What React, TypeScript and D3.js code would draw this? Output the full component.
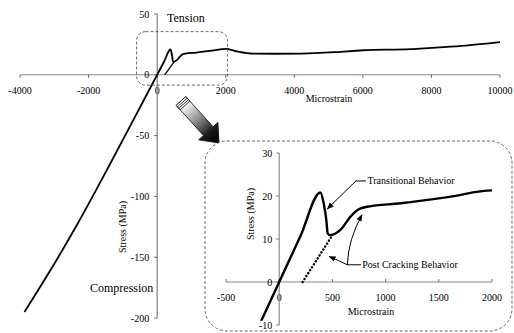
import React from 'react';
import * as d3 from 'd3';

const W = 514;
const H = 333;

// compression branch (microstrain, MPa)
const compStrain = [-3870, -3360, -2885, -2370, -1880, -1405, -700, 0];
const compStress = [-195, -172, -150, -125, -100, -75, -37.5, 0];

// tension branch
const tenStrain = [0, 200, 387, 418, 443, 456, 478, 575, 670, 748, 827, 1142, 1600, 2000, 2300, 2800, 3500, 4200, 5200, 6000, 7400, 8000, 9000, 10000];
const tenStress = [0, 10.7, 20.8, 18.3, 14.4, 11.3, 10.9, 12.1, 15.2, 16.9, 17.5, 18.3, 19.8, 21.3, 19.4, 17.4, 17.3, 17.4, 18.6, 20.2, 21.1, 22.2, 24.0, 26.8];

// post cracking (dotted) line
const postStrain = [220, 500];
const postStress = [0, 10.9];

const mainXTicks = [-4000, -2000, 0, 2000, 4000, 6000, 8000, 10000];
const mainYTicks = [50, 0, -50, -100, -150, -200];
const insetXTicks = [-500, 0, 500, 1000, 1500, 2000];
const insetYTicks = [30, 20, 10, 0, -10];

const FONT = '"Liberation Serif", "DejaVu Serif", serif';
const INK = '#000';

const zip = (xs: number[], ys: number[]) => xs.map((x, i) => [x, ys[i]] as [number, number]);

export default function App() {
  const xMain = d3.scaleLinear().domain([-4000, 10000]).range([20, 500]);
  const yMain = d3.scaleLinear().domain([-200, 50]).range([318, 14]);
  const xIn = d3.scaleLinear().domain([-500, 2000]).range([226, 492]);
  const yIn = d3.scaleLinear().domain([-10, 30]).range([325, 153]);

  const comp = zip(compStrain, compStress);
  const ten = zip(tenStrain, tenStress);
  const post = zip(postStrain, postStress);
  const full = comp.concat(ten.slice(1));

  const mainLine = d3.line<[number, number]>()
    .x(d => xMain(d[0])).y(d => yMain(d[1]))
    .curve(d3.curveMonotoneX);
  const inLine = d3.line<[number, number]>()
    .x(d => xIn(d[0])).y(d => yIn(d[1]))
    .curve(d3.curveMonotoneX);
  const straightMain = d3.line<[number, number]>().x(d => xMain(d[0])).y(d => yMain(d[1]));
  const straightIn = d3.line<[number, number]>().x(d => xIn(d[0])).y(d => yIn(d[1]));

  const x0 = xMain(0), y0 = yMain(0);
  const ix0 = xIn(0), iy0 = yIn(0);

  // big pointer arrow (from zoom box to the inset)
  const tail = [181, 101], tip = [219, 143];
  const ang = Math.atan2(tip[1] - tail[1], tip[0] - tail[0]) * 180 / Math.PI;
  const len = Math.hypot(tip[0] - tail[0], tip[1] - tail[1]);
  const hb = len - 16;
  const arrowPts = [[0, -6.5], [hb, -6.5], [hb, -13], [len, 0], [hb, 13], [hb, 6.5], [0, 6.5]]
    .map(p => p.join(',')).join(' ');

  return (
    <div style={{ position: 'absolute', left: 0, top: 0 }}>
      <svg width={W} height={H} style={{ display: 'block', background: '#fff' }} fontFamily={FONT}>
        <defs>
          <linearGradient id="arrowGrad" x1="0" x2="1" y1="0" y2="0">
            <stop offset="0.12" stopColor="#f2f2f2" />
            <stop offset="0.45" stopColor="#8a8a8a" />
            <stop offset="0.75" stopColor="#1a1a1a" />
            <stop offset="1" stopColor="#000" />
          </linearGradient>
          <marker id="tipHead" viewBox="0 0 10 10" refX="9" refY="5" markerWidth="7" markerHeight="7" orient="auto">
            <path d="M0,1 L10,5 L0,9 z" fill={INK} />
          </marker>
          <clipPath id="inClip">
            <rect x={xIn(-500)} y={yIn(30)} width={xIn(2000) - xIn(-500)} height={yIn(-9) - yIn(30)} />
          </clipPath>
        </defs>

        {/* ---------- main chart ---------- */}
        <line x1={xMain(-4000)} x2={xMain(10000)} y1={y0} y2={y0} stroke="#888" strokeWidth={1} />
        {mainXTicks.map(t => (
          <g key={'mx' + t}>
            <line x1={xMain(t)} x2={xMain(t)} y1={y0} y2={y0 + 3} stroke="#666" />
            <text x={xMain(t)} y={y0 + 19} textAnchor="middle" fontSize={10} fill={INK}>{t}</text>
          </g>
        ))}
        <text x={329} y={102} textAnchor="middle" fontSize={10} fill={INK}>Microstrain</text>

        <line x1={x0} x2={x0} y1={yMain(50)} y2={yMain(-200)} stroke="#666" strokeWidth={1} />
        {mainYTicks.map(t => (
          <g key={'my' + t}>
            <line x1={x0 - 3} x2={x0} y1={yMain(t)} y2={yMain(t)} stroke="#666" />
            <text x={x0 - 8} y={yMain(t)} dy="0.35em" textAnchor="end" fontSize={10} fill={INK}>{t}</text>
          </g>
        ))}
        <text transform={`translate(126,227) rotate(-90)`} textAnchor="middle" fontSize={10} fill={INK}>Stress (MPa)</text>

        <text x={167} y={22} fontSize={12} fill={INK}>Tension</text>
        <text x={90} y={292} fontSize={12} fill={INK}>Compression</text>

        <path d={straightMain(post) || ''} fill="none" stroke={INK} strokeWidth={1.3} />
        <path d={mainLine(full) || ''} fill="none" stroke={INK} strokeWidth={1.8} strokeLinejoin="round" />

        <rect x={xMain(-600)} y={yMain(35.5)} width={xMain(2050) - xMain(-600)} height={yMain(-8.5) - yMain(35.5)}
          rx={9} fill="none" stroke="#444" strokeWidth={0.8} strokeDasharray="3 2" />

        {/* big arrow */}
        <g transform={`translate(${tail[0]},${tail[1]}) rotate(${ang})`}>
          <polygon points={arrowPts} fill="url(#arrowGrad)" stroke="#111" strokeWidth={0.8} />
          <rect x={0} y={-6.5} width={6} height={13} fill="#fff" stroke="#111" strokeWidth={0.8} />
          <line x1={2} x2={2} y1={-6.5} y2={6.5} stroke="#111" strokeWidth={0.8} />
          <line x1={4} x2={4} y1={-6.5} y2={6.5} stroke="#111" strokeWidth={0.8} />
        </g>

        {/* ---------- inset ---------- */}
        <rect x={205} y={141} width={307} height={190} rx={22} fill="#fff" stroke="#444"
          strokeWidth={0.8} strokeDasharray="3 2" />

        <line x1={xIn(-500)} x2={xIn(2000)} y1={iy0} y2={iy0} stroke="#888" strokeWidth={1} />
        {insetXTicks.map(t => (
          <g key={'ix' + t}>
            <line x1={xIn(t)} x2={xIn(t)} y1={iy0} y2={iy0 - 3} stroke="#777" />
            <text x={xIn(t)} y={iy0 + 19} textAnchor="middle" fontSize={10} fill={INK}>{t}</text>
          </g>
        ))}
        <text x={371} y={315} textAnchor="middle" fontSize={10} fill={INK}>Microstrain</text>

        <line x1={ix0} x2={ix0} y1={yIn(30)} y2={yIn(-10)} stroke="#777" strokeWidth={1} />
        {insetYTicks.map(t => (
          <g key={'iy' + t}>
            <line x1={ix0 - 3} x2={ix0} y1={yIn(t)} y2={yIn(t)} stroke="#777" />
            <text x={ix0 - 7} y={yIn(t)} dy="0.35em" textAnchor="end" fontSize={10} fill={INK}>{t}</text>
          </g>
        ))}
        <text transform={`translate(254,214) rotate(-90)`} textAnchor="middle" fontSize={10} fill={INK}>Stress (MPa)</text>

        <path d={straightIn(post) || ''} fill="none" stroke={INK} strokeWidth={2.4}
          strokeDasharray="0.1 3.4" strokeLinecap="round" />
        <g clipPath="url(#inClip)">
          <path d={inLine(full) || ''} fill="none" stroke={INK} strokeWidth={2.4} strokeLinejoin="round" />
        </g>

        {/* annotations */}
        <path d={`M${xIn(815)},${yIn(23.5)} L${xIn(721)},${yIn(23.5)} L${xIn(452)},${yIn(17)}`}
          fill="none" stroke={INK} strokeWidth={1} markerEnd="url(#tipHead)" />
        <text x={xIn(830)} y={yIn(23.5)} dy="0.35em" fontSize={10} fill={INK}>Transitional Behavior</text>

        <path d={`M${xIn(770)},${yIn(4)} L${xIn(640)},${yIn(4)} Q${xIn(650)},${yIn(10)} ${xIn(778)},${yIn(15.6)}`}
          fill="none" stroke={INK} strokeWidth={1} markerEnd="url(#tipHead)" />
        <path d={`M${xIn(640)},${yIn(4)} Q${xIn(560)},${yIn(5)} ${xIn(470)},${yIn(5.9)}`}
          fill="none" stroke={INK} strokeWidth={1} markerEnd="url(#tipHead)" />
        <text x={xIn(780)} y={yIn(4)} dy="0.35em" fontSize={10} fill={INK}>Post Cracking Behavior</text>
      </svg>
    </div>
  );
}
